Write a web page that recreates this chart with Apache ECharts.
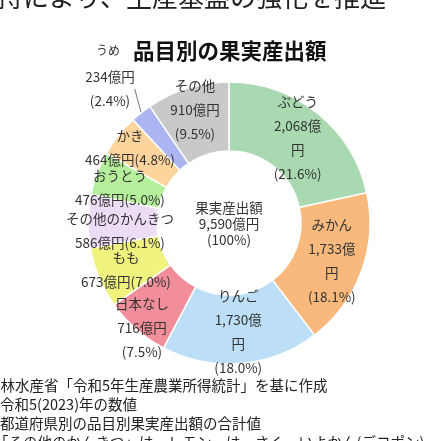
<!DOCTYPE html><html><head><meta charset="utf-8"><script src="https://cdn.jsdelivr.net/npm/echarts@6/dist/echarts.min.js"></script>
<style>html,body{margin:0;padding:0;background:#fff}#c{width:432px;height:441px}</style></head><body><div id="c"></div><script>
const categories=['ぶどう','みかん','りんご','日本なし','もも','その他のかんきつ','おうとう','かき','うめ','その他'];
const values=[2068,1733,1730,716,673,586,476,464,234,910];
const labelTexts=['ぶどう\n2,068億\n円\n(21.6%)','みかん\n1,733億\n円\n(18.1%)','りんご\n1,730億\n円\n(18.0%)','日本なし\n716億円\n(7.5%)','もも\n673億円(7.0%)','その他のかんきつ\n586億円(6.1%)','おうとう\n476億円(5.0%)','かき\n464億円(4.8%)','234億円\n(2.4%)','その他\n910億円\n(9.5%)'];
const colors=['#a9d9b1','#f9b97c','#bcdff7','#f28d9a','#eff27c','#ecdcf6','#b6ef9c','#fdd49c','#aab5f1','#c9c9c9'];
const notes=['農林水産省「令和5年生産農業所得統計」を基に作成','令和5(2023)年の数値','都道府県別の品目別果実産出額の合計値','「その他のかんきつ」は、レモン・はっさく・いよかん(デコポン)・ゆず・ぶんたん'];
const F='"Noto Sans CJK JP","Noto Sans",sans-serif';
const labelPos={3:[142,328],4:[126,270],5:[120,231],6:[120,188],7:[130,148],8:[110,89],9:[195,110]};
const chart=echarts.init(document.getElementById('c'));
chart.setOption({
 animation:false,
 graphic:[
  {type:'text',left:-3,top:-16,style:{text:'持により、生産基盤の強化を推進',font:'26px '+F,fill:'#222'}},
  {type:'text',left:133,top:40,style:{text:'品目別の果実産出額',font:'bold 21.5px '+F,fill:'#111'}},
  {type:'text',left:96,top:44,style:{text:'うめ',font:'12px '+F,fill:'#333'}},
  {type:'text',left:-14,top:378,style:{text:notes[0],font:'14.5px '+F,fill:'#222'}},
  {type:'text',left:0,top:397,style:{text:notes[1],font:'14.5px '+F,fill:'#222'}},
  {type:'text',left:0,top:416,style:{text:notes[2],font:'14.5px '+F,fill:'#222'}},
  {type:'text',left:-6,top:435,style:{text:notes[3],font:'14.5px '+F,fill:'#222'}},
  {type:'text',x:229,y:224,style:{text:'果実産出額\n9,590億円\n(100%)',font:'13.5px '+F,fill:'#333',align:'center',verticalAlign:'middle',lineHeight:16}}
 ],
 series:[{type:'pie',center:[229,223],radius:[72,141],startAngle:90,clockwise:true,
  itemStyle:{borderColor:'#fff',borderWidth:1.5},
  label:{position:'inside',color:'#333',fontSize:13.5,fontFamily:F,lineHeight:24,formatter:p=>labelTexts[p.dataIndex]},
  labelLine:{show:false},
  data:categories.map((n,i)=>{const d={name:n,value:values[i],itemStyle:{color:colors[i]}};
   if(n==='うめ'){d.label={position:'outside',lineHeight:24,align:'center'};d.labelLine={show:true,length:4,length2:0,lineStyle:{color:'#555',width:0.8}};}
   return d;}),
  labelLayout:p=>labelPos[p.dataIndex]?{x:labelPos[p.dataIndex][0],y:labelPos[p.dataIndex][1],align:'center',verticalAlign:'middle'}:{}
 }]
});
</script></body></html>
